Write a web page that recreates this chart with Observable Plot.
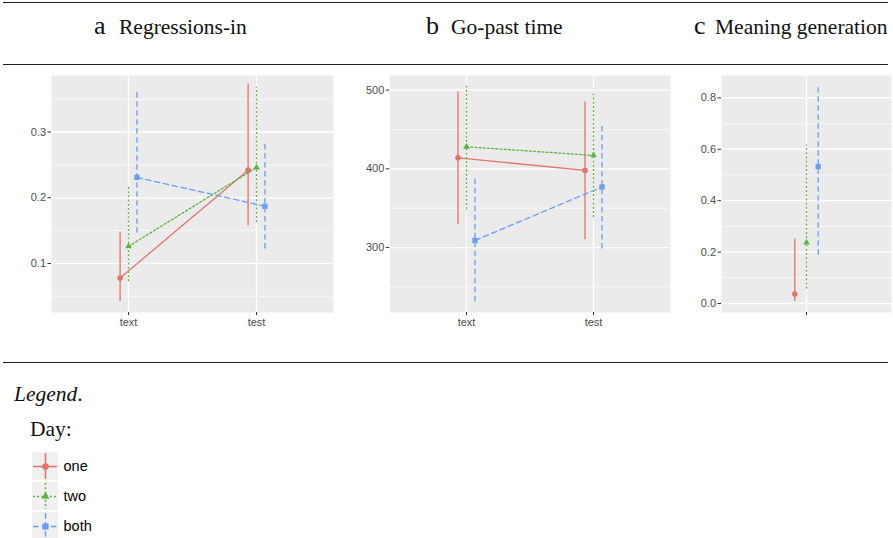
<!DOCTYPE html>
<html>
<head>
<meta charset="utf-8">
<script src="https://cdn.jsdelivr.net/npm/d3@7"></script>
<script src="https://cdn.jsdelivr.net/npm/@observablehq/plot@0.6"></script>
<style>
  html, body { margin: 0; padding: 0; background: #fff; }
  #root { position: relative; width: 893px; height: 538px; overflow: hidden; font-family: "Liberation Serif", "Times New Roman", serif; }
  .hline { position: absolute; left: 3px; width: 885px; height: 1.4px; background: #222; }
  .lbl { position: absolute; white-space: nowrap; line-height: 30px; color: #111; }
  .big { font-size: 26px; }
  .ttl { font-size: 21.5px; }
  .panel { position: absolute; top: 65px; }
  .panel svg, #legend svg { overflow: visible; }
</style>
</head>
<body>
<div id="root">
  <div class="hline" style="top:2px"></div>
  <div class="hline" style="top:64px"></div>
  <div class="hline" style="top:362px"></div>

  <div class="lbl big" style="left:94px;top:11px">a</div>
  <div class="lbl ttl" style="left:119px;top:12px">Regressions-in</div>
  <div class="lbl big" style="left:426px;top:11px">b</div>
  <div class="lbl ttl" style="left:451px;top:12px">Go-past time</div>
  <div class="lbl big" style="left:694px;top:11px">c</div>
  <div class="lbl ttl" style="left:715px;top:12px">Meaning generation</div>

  <div class="lbl ttl" style="left:14px;top:379px;font-style:italic">Legend<span style="font-style:normal">.</span></div>
  <div class="lbl ttl" style="left:30px;top:414px">Day:</div>

  <div id="pa" class="panel" style="left:0px"></div>
  <div id="pb" class="panel" style="left:340px"></div>
  <div id="pc" class="panel" style="left:675px"></div>
  <div id="legend" style="position:absolute;left:32px;top:452px"></div>
</div>
<script>
// ---- data ----
const days = ["one", "two", "both"];
const conditions = ["text", "test"];
const meaningConditions = [""];

// Regressions-in (rows: one, two, both; columns: text, test)
const regMean = [[0.078, 0.242], [0.126, 0.246], [0.231, 0.187]];
const regLow  = [[0.042, 0.157], [0.072, 0.162], [0.146, 0.122]];
const regHigh = [[0.148, 0.373], [0.219, 0.368], [0.365, 0.286]];

// Go-past time
const gpMean = [[414, 398], [428, 417], [309, 377]];
const gpLow  = [[329, 310], [348, 338], [231, 298]];
const gpHigh = [[498, 485], [505, 495], [388, 454]];

// Meaning generation
const mgMean = [[0.037], [0.237], [0.533]];
const mgLow  = [[0.008], [0.056], [0.188]];
const mgHigh = [[0.251], [0.617], [0.852]];

const regTicks = [0.1, 0.2, 0.3], regMinor = [0.05, 0.15, 0.25, 0.35];
const gpTicks = [300, 400, 500], gpMinor = [250, 350, 450];
const mgTicks = [0, 0.2, 0.4, 0.6, 0.8], mgMinor = [0.1, 0.3, 0.5, 0.7];

// ---- styles ----
const colors = {one: "#E5736B", two: "#5DB33F", both: "#6B9DF6"};
const dashes = {one: null, two: "2,2.2", both: "5.5,3.5"};
const symbols = {one: "circle", two: "triangle", both: "square"};
const sizes = {one: 2.8, two: 2.5, both: 3};

function table(conds, mean, lo, hi) {
  return days.flatMap((d, i) => conds.map((c, j) => ({day: d, cond: c, mean: mean[i][j], lo: lo[i][j], hi: hi[i][j]})));
}

function panel(el, {conds, mean, lo, hi, domain, major, minor, fmt, dodge, width, ml, mr, xfmt}) {
  const data = table(conds, mean, lo, hi);
  const marks = [
    Plot.frame({fill: "#EBEBEB", stroke: "none"}),
    Plot.ruleY(minor, {stroke: "white", strokeWidth: 0.6}),
    Plot.ruleY(major, {stroke: "white", strokeWidth: 1.3}),
    Plot.ruleX(conds, {stroke: "white", strokeWidth: 1.3}),
    Plot.axisY({ticks: major, tickFormat: fmt, tickSize: 3.5, tickPadding: 2, label: null, color: "#4D4D4D", stroke: "#333"}),
    Plot.axisX({tickSize: 3, tickPadding: 3, label: null, color: "#4D4D4D", stroke: "#333", tickFormat: xfmt})
  ];
  days.forEach((d, i) => {
    const sub = data.filter(r => r.day === d);
    marks.push(
      Plot.ruleX(sub, {x: "cond", y1: "lo", y2: "hi", stroke: colors[d], strokeWidth: 1.3, strokeDasharray: dashes[d], dx: dodge[i]}),
      Plot.line(sub, {x: "cond", y: "mean", stroke: colors[d], strokeWidth: 1.3, strokeDasharray: dashes[d], dx: dodge[i]}),
      Plot.dot(sub, {x: "cond", y: "mean", symbol: symbols[d], fill: colors[d], r: sizes[d], dx: dodge[i]})
    );
  });
  el.appendChild(Plot.plot({
    width, height: 275,
    marginTop: 10, marginBottom: 28, marginLeft: ml, marginRight: mr,
    x: {type: "point", domain: conds, padding: 0.6},
    y: {domain},
    style: {fontFamily: "'Liberation Sans', Arial, sans-serif", fontSize: "11px", background: "transparent"},
    marks
  }));
}

panel(document.getElementById("pa"), {
  conds: conditions, mean: regMean, lo: regLow, hi: regHigh,
  domain: [0.0254, 0.386], major: regTicks, minor: regMinor, fmt: d3.format(".1f"),
  dodge: [-8.4, 0, 8.4], width: 340, ml: 51, mr: 7, xfmt: d => d
});
panel(document.getElementById("pb"), {
  conds: conditions, mean: gpMean, lo: gpLow, hi: gpHigh,
  domain: [217.5, 518.5], major: gpTicks, minor: gpMinor, fmt: d3.format("d"),
  dodge: [-8.5, 0, 8.5], width: 335, ml: 49.3, mr: 5, xfmt: d => d
});
panel(document.getElementById("pc"), {
  conds: meaningConditions, mean: mgMean, lo: mgLow, hi: mgHigh,
  domain: [-0.035, 0.887], major: mgTicks, minor: mgMinor, fmt: d3.format(".1f"),
  dodge: [-11.7, 0, 11.7], width: 218, ml: 46, mr: 2, xfmt: () => ""
});

// ---- legend ----
const legendData = days.map(d => ({day: d, k: "k"}));
const legendMarks = [
  Plot.cell(legendData, {x: "k", y: "day", fill: "#F0F0F0"})
];
days.forEach(d => {
  const sub = legendData.filter(r => r.day === d);
  legendMarks.push(
    Plot.tickY(sub, {x: "k", y: "day", stroke: colors[d], strokeWidth: 1.5, strokeDasharray: dashes[d], insetLeft: 1, insetRight: 1}),
    Plot.tickX(sub, {x: "k", y: "day", stroke: colors[d], strokeWidth: 1.5, strokeDasharray: dashes[d], insetTop: 1, insetBottom: 1}),
    Plot.dot(sub, {x: "k", y: "day", symbol: symbols[d], fill: colors[d], r: sizes[d] + 0.5})
  );
});
legendMarks.push(Plot.text(legendData, {x: "k", y: "day", text: "day", dx: 18, textAnchor: "start", fill: "#000", fontSize: 14.5}));
document.getElementById("legend").appendChild(Plot.plot({
  width: 110, height: 88,
  margin: 0,
  x: {type: "band", domain: ["k"], range: [0, 26.5], axis: null, padding: 0},
  y: {type: "band", domain: days, range: [0, 88], axis: null, paddingInner: 0.07, paddingOuter: 0, align: 0},
  style: {fontFamily: "'Liberation Sans', Arial, sans-serif", background: "transparent"},
  marks: legendMarks
}));
</script>
</body>
</html>
